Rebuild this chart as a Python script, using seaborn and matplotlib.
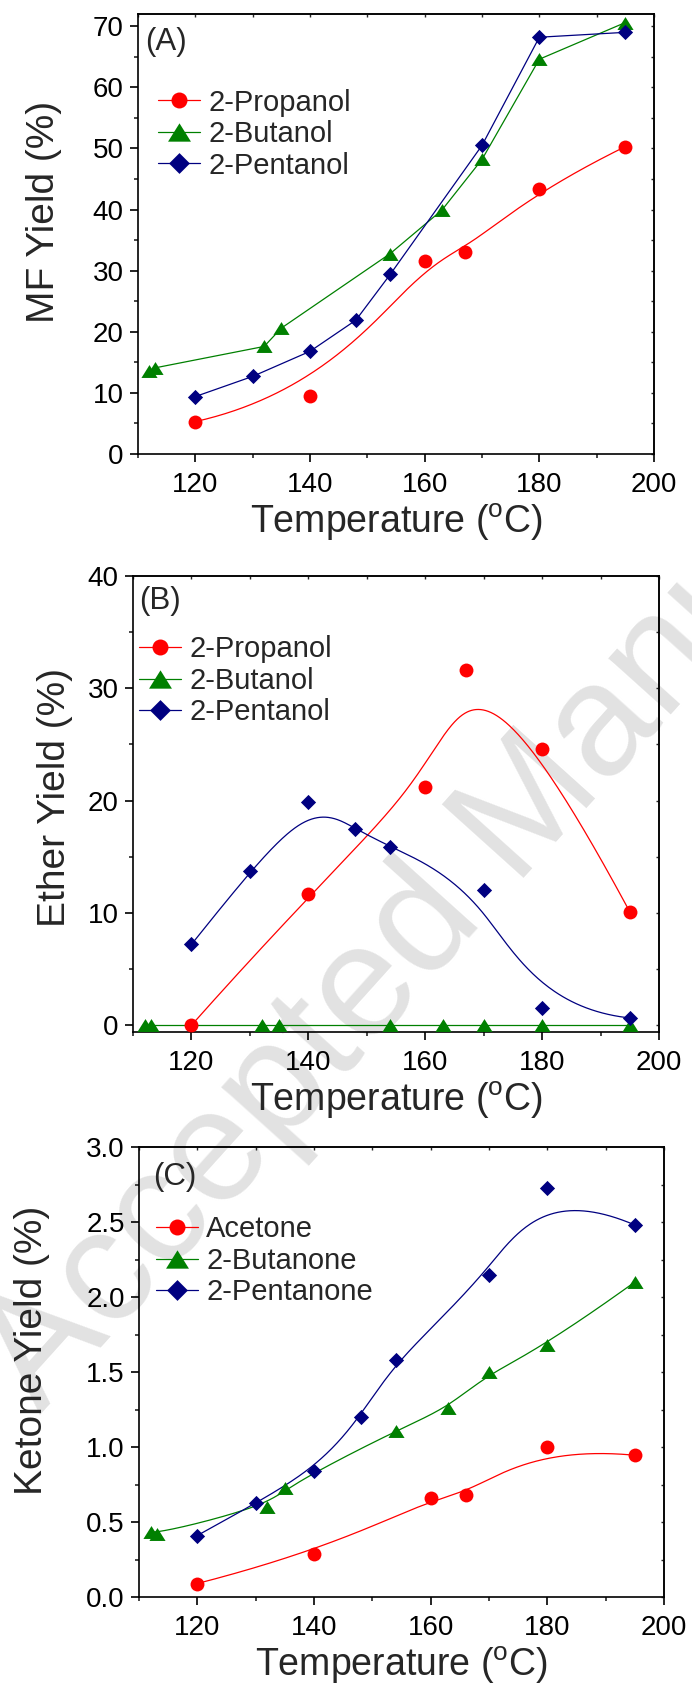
import numpy as np
import matplotlib
matplotlib.use("Agg")
import matplotlib.pyplot as plt
from matplotlib.ticker import MultipleLocator, FormatStrFormatter
from matplotlib.lines import Line2D
import seaborn as sns

# ---------------- data ----------------
# Panel A: MF yield (%)
mf_prop_T = [120, 140, 160, 167, 180, 195]
mf_prop = [5.3, 9.5, 31.5, 33.0, 43.4, 50.3]
mf_but_T = [112, 113, 132, 135, 154, 163, 170, 180, 195]
mf_but = [13.5, 14.1, 17.6, 20.6, 32.8, 39.9, 48.2, 64.6, 70.6]
mf_pent_T = [120, 130, 140, 148, 154, 170, 180, 195]
mf_pent = [9.4, 12.7, 16.8, 21.9, 29.4, 50.5, 68.2, 69.0]

# Panel B: Ether yield (%)
eth_prop_T = [120, 140, 160, 167, 180, 195]
eth_prop = [0.0, 11.7, 21.2, 31.6, 24.6, 10.1]
eth_but_T = [112, 113, 132, 135, 154, 163, 170, 180, 195]
eth_but = [0, 0, 0, 0, 0, 0, 0, 0, 0]
eth_pent_T = [120, 130, 140, 148, 154, 170, 180, 195]
eth_pent = [7.2, 13.7, 19.9, 17.5, 15.9, 12.0, 1.5, 0.65]

# Panel C: Ketone yield (%)
ket_acet_T = [120, 140, 160, 166, 180, 195]
ket_acet = [0.09, 0.29, 0.66, 0.68, 1.00, 0.945]
ket_but_T = [112, 113, 132, 135, 154, 163, 170, 180, 195]
ket_but = [0.435, 0.42, 0.60, 0.73, 1.11, 1.26, 1.50, 1.68, 2.10]
ket_pent_T = [120, 130, 140, 148, 154, 170, 180, 195]
ket_pent = [0.41, 0.625, 0.84, 1.20, 1.58, 2.15, 2.73, 2.48]

labels_A = ["2-Propanol", "2-Butanol", "2-Pentanol"]
labels_C = ["Acetone", "2-Butanone", "2-Pentanone"]

# ---------------- style ----------------
sns.set_style("ticks")
plt.rcParams["font.family"] = ["Liberation Sans", "DejaVu Sans"]
plt.rcParams["mathtext.fontset"] = "custom"
plt.rcParams["mathtext.rm"] = "Liberation Sans"
plt.rcParams["axes.linewidth"] = 1.2

RED, GREEN, NAVY = "#ff0000", "#008000", "#000080"
TRI = [(0, 0.8), (-1, -0.8), (1, -0.8)]
DIA = [(0, 1), (1, 0), (0, -1), (-1, 0)]


def bspline(x, y, n=400, k=3):
    """Clamped cubic B-spline using the data points as control points."""
    P = np.column_stack([x, y]).astype(float)
    m = len(P)
    k = min(k, m - 1)
    knots = np.concatenate([np.zeros(k), np.arange(m - k + 1), np.full(k, m - k)]).astype(float)
    t = np.linspace(0, m - k - 1e-9, n)
    N = np.zeros((n, len(knots) - 1))
    for i in range(len(knots) - 1):
        N[:, i] = (knots[i] <= t) & (t < knots[i + 1])
    for p in range(1, k + 1):
        Nn = np.zeros((n, len(knots) - 1 - p))
        for i in range(len(knots) - 1 - p):
            d1 = knots[i + p] - knots[i]
            d2 = knots[i + p + 1] - knots[i + 1]
            a = (t - knots[i]) / d1 * N[:, i] if d1 > 0 else 0.0
            b = (knots[i + p + 1] - t) / d2 * N[:, i + 1] if d2 > 0 else 0.0
            Nn[:, i] = a + b
        N = Nn
    C = N @ P
    return C[:, 0], C[:, 1]


W, H = 692, 1692
fig = plt.figure(figsize=(W / 100, H / 100), dpi=100)

# watermark
fig.text(40 / W, 1 - 1415 / H, "Accepted Manuscript", fontsize=115, color="#e2e2e2",
         rotation=48, rotation_mode="anchor", ha="left", va="baseline", zorder=-5)


def add_axes(l, t, r, b):
    ax = fig.add_axes([l / W, 1 - b / H, (r - l) / W, (b - t) / H])
    ax.set_facecolor("none")
    return ax


def draw_series(ax, T, Y, color, marker, smooth, msize):
    if smooth:
        bx, by = bspline(T, Y)
    else:
        bx, by = np.asarray(T, float), np.asarray(Y, float)
    sns.lineplot(x=bx, y=by, ax=ax, color=color, lw=0.9, sort=False, estimator=None, zorder=2)
    sns.scatterplot(x=T, y=Y, ax=ax, color=color, marker=marker, s=msize, linewidth=0,
                    zorder=3, clip_on=False)


def style(ax, ylim, ymaj, ymin, fmt, ylabel, ylab_xy, panel, panel_xy, labels, leg_xy):
    ax.set_xlim(110, 200)
    ax.set_ylim(*ylim)
    ax.xaxis.set_major_locator(MultipleLocator(20))
    ax.xaxis.set_minor_locator(MultipleLocator(10))
    ax.yaxis.set_major_locator(MultipleLocator(ymaj))
    ax.yaxis.set_minor_locator(MultipleLocator(ymin))
    ax.yaxis.set_major_formatter(FormatStrFormatter(fmt))
    ax.tick_params(which="major", direction="out", length=5.8, width=1.2, labelsize=20, pad=4.5,
                   colors="black")
    ax.tick_params(axis="x", which="major", pad=7)
    ax.tick_params(which="minor", direction="out", length=3.2, width=1.2)
    for s in ax.spines.values():
        s.set_visible(True)
        s.set_linewidth(1.2)
        s.set_color("black")
    sx = ax.secondary_xaxis("top")
    sx.xaxis.set_major_locator(MultipleLocator(20))
    sx.xaxis.set_minor_locator(MultipleLocator(10))
    sx.tick_params(which="both", direction="in", length=2.5, width=1.0, labeltop=False)
    sy = ax.secondary_yaxis("right")
    sy.yaxis.set_major_locator(MultipleLocator(ymaj))
    sy.yaxis.set_minor_locator(MultipleLocator(ymin))
    sy.tick_params(which="both", direction="in", length=2.5, width=1.0, labelright=False)
    ax.set_xlabel(r"Temperature ($^{\mathrm{o}}$C)", fontsize=27, labelpad=3)
    ax.set_ylabel(ylabel, fontsize=28)
    ax.yaxis.set_label_coords(*ylab_xy)
    ax.text(panel_xy[0], panel_xy[1], panel, transform=ax.transAxes, fontsize=22.5,
            ha="left", va="center")
    handles = [
        Line2D([], [], color=RED, lw=0.9, marker="o", markersize=11.5, markeredgewidth=0),
        Line2D([], [], color=GREEN, lw=0.9, marker=TRI, markersize=16.5, markeredgewidth=0),
        Line2D([], [], color=NAVY, lw=0.9, marker=DIA, markersize=15, markeredgewidth=0),
    ]
    ax.legend(handles, labels, loc="center left", bbox_to_anchor=leg_xy, frameon=False,
              fontsize=21, borderpad=0, borderaxespad=0, handlelength=1.45,
              handletextpad=0.28, labelspacing=0.12)


MS_O, MS_T, MS_D = 100, 135, 120

# ---------------- Panel A ----------------
axA = add_axes(138, 14, 654, 454)
draw_series(axA, mf_prop_T, mf_prop, RED, "o", True, MS_O)
draw_series(axA, mf_but_T, mf_but, GREEN, TRI, False, MS_T)
draw_series(axA, mf_pent_T, mf_pent, NAVY, DIA, False, MS_D)
style(axA, (0, 72), 10, 5, "%d", "MF Yield (%)", (-0.147, 0.55), "(A)", (0.014, 0.936),
      labels_A, (0.039, 0.727))

# ---------------- Panel B ----------------
axB = add_axes(133, 576, 659, 1032)
draw_series(axB, eth_prop_T, eth_prop, RED, "o", True, MS_O)
draw_series(axB, eth_but_T, eth_but, GREEN, TRI, False, MS_T)
draw_series(axB, eth_pent_T, eth_pent, NAVY, DIA, True, MS_D)
style(axB, (-0.6, 40), 10, 5, "%d", "Ether Yield (%)", (-0.114, 0.515), "(B)", (0.011, 0.945),
      labels_A, (0.011, 0.770))

# ---------------- Panel C ----------------
axC = add_axes(139, 1147, 664, 1597)
draw_series(axC, ket_acet_T, ket_acet, RED, "o", True, MS_O)
draw_series(axC, ket_but_T, ket_but, GREEN, TRI, True, MS_T)
draw_series(axC, ket_pent_T, ket_pent, NAVY, DIA, True, MS_D)
style(axC, (0, 3.0), 0.5, 0.25, "%.1f", "Ketone Yield (%)", (-0.170, 0.547), "(C)", (0.027, 0.933),
      labels_C, (0.032, 0.747))

fig.savefig("out.png", dpi=100)
